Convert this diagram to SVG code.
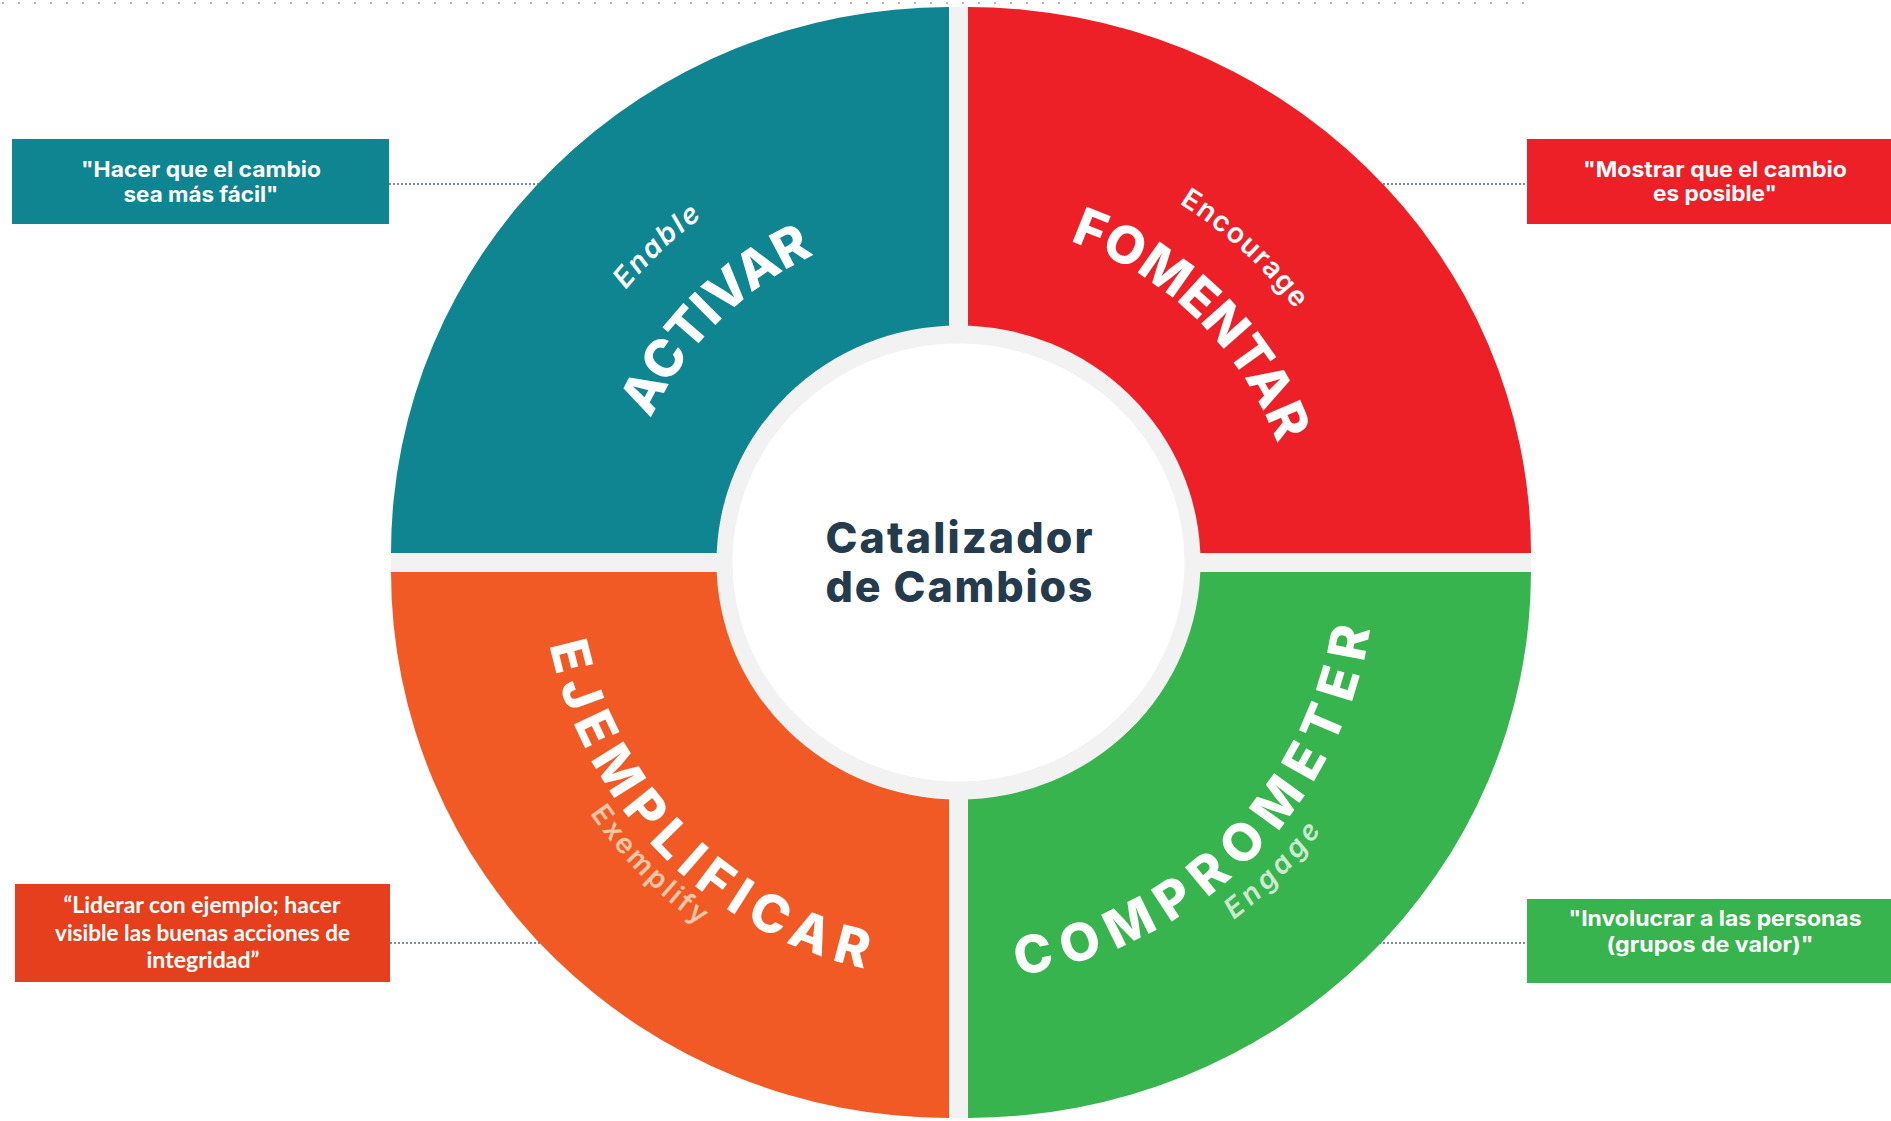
<svg xmlns="http://www.w3.org/2000/svg" width="1891" height="1121" viewBox="0 0 1891 1121">
<style>
.boxt{font-family:Inter,"Liberation Sans",sans-serif;font-weight:700;font-size:21px;fill:#fff;text-anchor:middle}
.boxc{font-family:Lato,"Liberation Sans",sans-serif;font-weight:700;font-size:22px;fill:#fff;text-anchor:middle}
.big{font-family:Inter,"Liberation Sans",sans-serif;font-weight:800;font-size:52px;fill:#fff}
.sub{font-family:Inter,"Liberation Sans",sans-serif;font-weight:600;font-size:28px;fill:#fff}
.conn{stroke:#7d8a9c;stroke-width:2;stroke-dasharray:2 2;fill:none}
.ctr{font-family:Inter,"Liberation Sans",sans-serif;font-weight:800;font-size:43px;fill:#243a4d;text-anchor:middle}
</style>
<defs>
<path id="p-activar" d="M680,757.5 A340,340 0 0 1 1153.5,284"/>
<path id="p-enable" d="M599.9,799.8 A430,430 0 0 1 1214.3,216.8"/>
<path id="p-fomentar" d="M760.6,285.9 A340,340 0 0 1 1239,754.6"/>
<path id="p-encourage" d="M701.6,228.9 A421,421 0 0 1 1314,788.1"/>
<path id="p-ejemplificar" d="M617.8,322.1 A417,417 0 0 0 1196.5,904.9"/>
<path id="p-exemplify" d="M595.2,303.8 A446,446 0 0 0 1211.4,929.8"/>
<path id="p-comprometer" d="M720.8,905.1 A417,417 0 0 0 1299,321.8"/>
<path id="p-engage" d="M705.2,935.7 A451,451 0 0 0 1324,298.3"/>
</defs>
<rect width="1891" height="1121" fill="#fff"/>
<line x1="2" y1="3" x2="1526" y2="3" stroke="#b8b8b8" stroke-width="2" stroke-dasharray="2 14"/>
<g id="connectors">
<line class="conn" x1="389" y1="184" x2="545" y2="184"/>
<line class="conn" x1="1375" y1="184" x2="1527" y2="184"/>
<line class="conn" x1="390" y1="943" x2="545" y2="943"/>
<line class="conn" x1="1375" y1="943" x2="1527" y2="943"/>
</g>
<g id="wheel">
<rect x="949" y="7" width="19" height="1111" fill="#f2f2f2"/>
<rect x="391" y="553" width="1140" height="19" fill="#f2f2f2"/>
</g>
<g id="activar">
<path d="M949,553 L391,553 A558,546 0 0 1 949,7 Z" fill="#0e8591"/>
</g>
<g id="fomentar">
<path d="M968,553 L968,7 A563,546 0 0 1 1531,553 Z" fill="#ed1f27"/>
</g>
<g id="ejemplificar">
<path d="M949,572 L391,572 A558,546 0 0 0 949,1118 Z" fill="#f15a24"/>
</g>
<g id="comprometer">
<path d="M968,572 L1531,572 A563,546 0 0 1 968,1118 Z" fill="#37b44e"/>
</g>
<g id="center">
<ellipse cx="958.5" cy="562.5" rx="242" ry="237" fill="#f2f2f2"/>
<ellipse cx="958.5" cy="562.5" rx="226" ry="219" fill="#fff"/>
<text class="ctr" x="959" y="553" textLength="267" lengthAdjust="spacing">Catalizador</text>
<text class="ctr" x="959" y="602" textLength="267" lengthAdjust="spacing">de Cambios</text>
</g>
<g id="labels">
<text class="big" letter-spacing="0"><textPath href="#p-activar" startOffset="50%" text-anchor="middle">ACTIVAR</textPath></text>
<text class="sub" font-style="italic" letter-spacing="2.5"><textPath href="#p-enable" startOffset="50%" text-anchor="middle">Enable</textPath></text>
<text class="big" letter-spacing="0.5"><textPath href="#p-fomentar" startOffset="50%" text-anchor="middle">FOMENTAR</textPath></text>
<text class="sub" letter-spacing="1.5"><textPath href="#p-encourage" startOffset="50%" text-anchor="middle">Encourage</textPath></text>
<text class="big" letter-spacing="9"><textPath href="#p-ejemplificar" startOffset="50%" text-anchor="middle">EJEMPLIFICAR</textPath></text>
<text class="sub" style="fill:#f9c6a6" letter-spacing="3"><textPath href="#p-exemplify" startOffset="50%" text-anchor="middle">Exemplify</textPath></text>
<text class="big" letter-spacing="11"><textPath href="#p-comprometer" startOffset="50%" text-anchor="middle">COMPROMETER</textPath></text>
<text class="sub" font-style="italic" style="fill:#cde9cf" letter-spacing="4.5"><textPath href="#p-engage" startOffset="50%" text-anchor="middle">Engage</textPath></text>
</g>
<g id="box-activar">
<rect x="12" y="139" width="377" height="85" fill="#0e8591"/>
<text class="boxt" x="201" y="177" textLength="240" lengthAdjust="spacingAndGlyphs">"Hacer que el cambio</text>
<text class="boxt" x="201" y="201.5" textLength="155" lengthAdjust="spacingAndGlyphs">sea más fácil"</text>
</g>
<g id="box-fomentar">
<rect x="1527" y="139" width="364" height="85" fill="#ed1f27"/>
<text class="boxt" x="1715" y="176.5" textLength="264" lengthAdjust="spacingAndGlyphs">"Mostrar que el cambio</text>
<text class="boxt" x="1715" y="201" textLength="124" lengthAdjust="spacingAndGlyphs">es posible"</text>
</g>
<g id="box-ejemplificar">
<rect x="15" y="884" width="375" height="98" fill="#e53f1d"/>
<text class="boxc" x="202" y="912.5" textLength="277" lengthAdjust="spacingAndGlyphs">“Liderar con ejemplo; hacer</text>
<text class="boxc" x="202.5" y="940.5" textLength="295" lengthAdjust="spacingAndGlyphs">visible las buenas acciones de</text>
<text class="boxc" x="203" y="968" textLength="113" lengthAdjust="spacingAndGlyphs">integridad”</text>
</g>
<g id="box-comprometer">
<rect x="1527" y="899" width="364" height="84" fill="#37b44e"/>
<text class="boxt" x="1715" y="926" textLength="293" lengthAdjust="spacingAndGlyphs">"Involucrar a las personas</text>
<text class="boxt" x="1710" y="952" textLength="207" lengthAdjust="spacingAndGlyphs">(grupos de valor)"</text>
</g>
</svg>
